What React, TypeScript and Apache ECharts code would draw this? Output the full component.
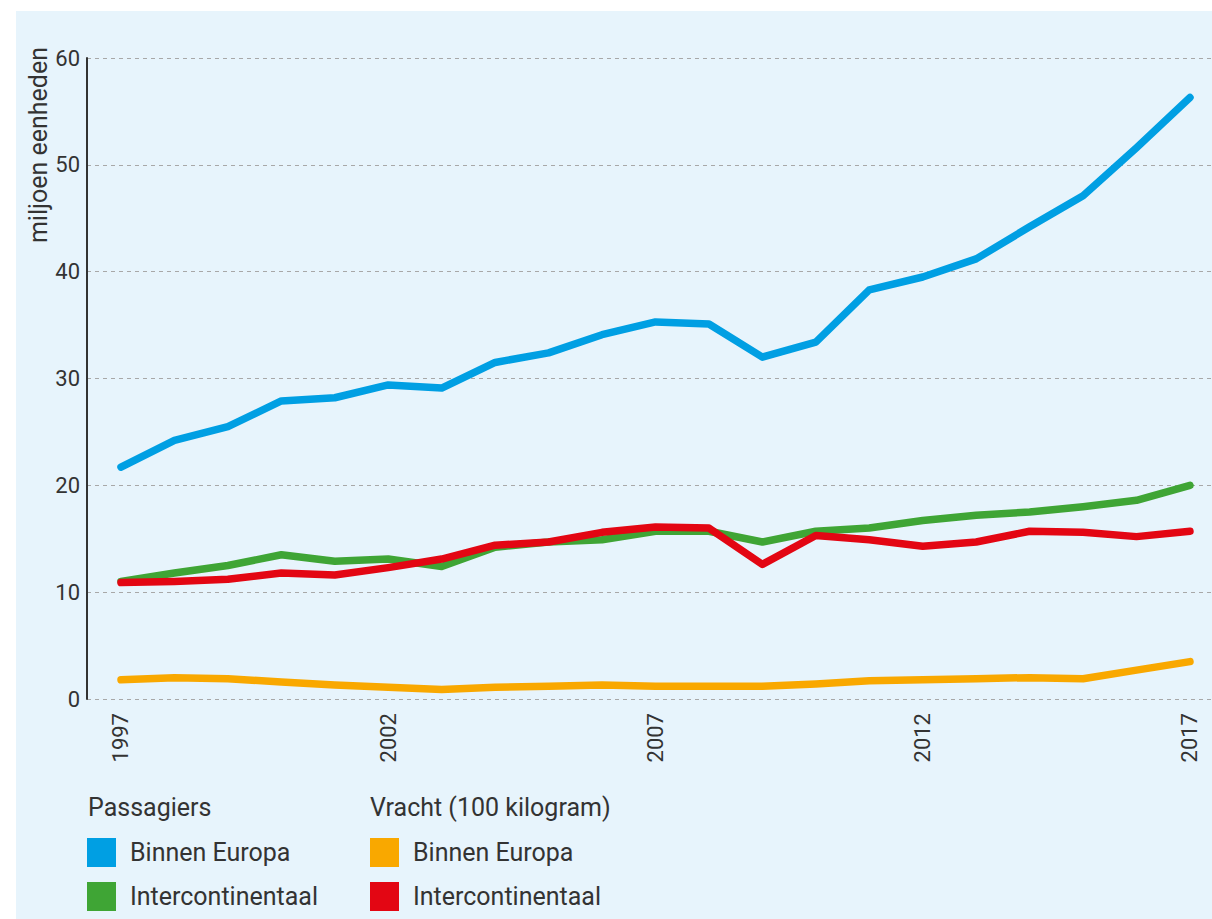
import React, { useEffect, useRef } from "react";
import * as echarts from "echarts";

const years = [1997, 1998, 1999, 2000, 2001, 2002, 2003, 2004, 2005, 2006, 2007, 2008, 2009, 2010, 2011, 2012, 2013, 2014, 2015, 2016, 2017];
const yearTicks = [1997, 2002, 2007, 2012, 2017];

const passBinnenEuropa = [21.7, 24.2, 25.5, 27.9, 28.2, 29.4, 29.1, 31.5, 32.4, 34.1, 35.3, 35.1, 32.0, 33.4, 38.3, 39.5, 41.2, 44.2, 47.1, 51.6, 56.3];
const passIntercontinentaal = [11.0, 11.8, 12.5, 13.5, 12.9, 13.1, 12.4, 14.2, 14.7, 14.9, 15.7, 15.7, 14.7, 15.7, 16.0, 16.7, 17.2, 17.5, 18.0, 18.6, 20.0];
const vrachtBinnenEuropa = [1.8, 2.0, 1.9, 1.6, 1.3, 1.1, 0.9, 1.1, 1.2, 1.3, 1.2, 1.2, 1.2, 1.4, 1.7, 1.8, 1.9, 2.0, 1.9, 2.7, 3.5];
const vrachtIntercontinentaal = [10.9, 11.0, 11.2, 11.8, 11.6, 12.3, 13.1, 14.4, 14.7, 15.6, 16.1, 16.0, 12.6, 15.3, 14.9, 14.3, 14.7, 15.7, 15.6, 15.2, 15.7];

const yTitle = "miljoen eenheden";
const groupPassagiers = "Passagiers";
const groupVracht = "Vracht (100 kilogram)";
const labelBinnen = "Binnen Europa";
const labelInter = "Intercontinentaal";

const FONT = "Roboto, 'Noto Sans', sans-serif";
const TXT = "#333333";
const BIG = 25;

const pairs = (vals: number[]) => years.map((y, i) => [y, vals[i]]);

export default function App() {
  const ref = useRef<HTMLDivElement>(null);
  useEffect(() => {
    if (!ref.current) return;
    const chart = echarts.init(ref.current, null, { renderer: "svg" });
    const mkSeries = (name: string, vals: number[], color: string) => ({
      name,
      type: "line",
      data: pairs(vals),
      showSymbol: false,
      symbol: "none",
      color,
      lineStyle: { width: 7.5, color, cap: "round", join: "round" },
      itemStyle: { color },
    });
    const formatter = (n: string) => n.replace(/^[PV] /, "");
    const legendBase = {
      orient: "vertical",
      itemWidth: 29,
      itemHeight: 29,
      itemGap: 15,
      padding: 0,
      icon: "rect",
      selectedMode: false,
      formatter,
      itemStyle: { borderWidth: 0 },
      textStyle: { fontSize: BIG, color: TXT, fontFamily: FONT, padding: [0, 0, 0, 9] },
    };
    chart.setOption({
      animation: false,
      textStyle: { fontFamily: FONT },
      graphic: [
        { type: "rect", z: -10, silent: true, shape: { x: 16, y: 11, width: 1196, height: 908 }, style: { fill: "#e7f4fc" } },
        {
          type: "text",
          x: 38,
          y: 47,
          rotation: Math.PI / 2,
          style: { text: yTitle, fontSize: BIG, fontFamily: FONT, fill: TXT, align: "right", verticalAlign: "middle", textAlign: "right", textVerticalAlign: "middle" },
        },
        { type: "text", x: 88, y: 807, style: { text: groupPassagiers, fontSize: BIG, fontFamily: FONT, fill: TXT, verticalAlign: "middle", textVerticalAlign: "middle" } },
        { type: "text", x: 370, y: 807, style: { text: groupVracht, fontSize: BIG, fontFamily: FONT, fill: TXT, verticalAlign: "middle", textVerticalAlign: "middle" } },
      ],
      legend: [
        { ...legendBase, left: 87, top: 838, data: ["P " + labelBinnen, "P " + labelInter] },
        { ...legendBase, left: 370, top: 838, data: ["V " + labelBinnen, "V " + labelInter] },
      ],
      grid: { left: 87, right: 0, top: 58, bottom: 220, containLabel: false },
      xAxis: {
        type: "value",
        min: 1996.364,
        max: 2017.412,
        axisLine: { show: false },
        axisTick: { show: false, customValues: yearTicks },
        splitLine: { show: false },
        axisLabel: {
          customValues: yearTicks,
          rotate: 90,
          margin: 14,
          fontSize: 22,
          color: TXT,
          fontFamily: FONT,
          formatter: (v: number) => String(v),
        },
      },
      yAxis: {
        type: "value",
        min: 0,
        max: 60,
        interval: 10,
        axisLine: { show: true, lineStyle: { color: "#333333", width: 2 } },
        axisTick: { show: false },
        axisLabel: { fontSize: 22, color: TXT, margin: 7, fontFamily: FONT },
        splitLine: { show: true, lineStyle: { color: "#a8a8a8", width: 1, type: [4, 4] } },
      },
      series: [
        mkSeries("P " + labelBinnen, passBinnenEuropa, "#009fe3"),
        mkSeries("P " + labelInter, passIntercontinentaal, "#3fa535"),
        mkSeries("V " + labelBinnen, vrachtBinnenEuropa, "#f9a800"),
        mkSeries("V " + labelInter, vrachtIntercontinentaal, "#e30613"),
      ],
    });
    return () => chart.dispose();
  }, []);
  return <div ref={ref} style={{ position: "absolute", left: 0, top: 0, width: 1212, height: 919 }} />;
}
